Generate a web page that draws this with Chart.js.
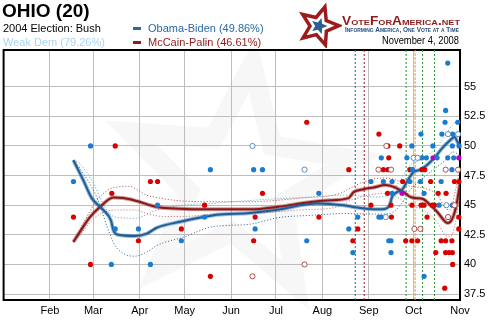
<!DOCTYPE html>
<html>
<head>
<meta charset="utf-8">
<script src="https://cdn.jsdelivr.net/npm/chart.js@4"></script>
<style>
body { margin: 0; background: #fff; font-family: "Liberation Sans", Arial, sans-serif; }
#wrap { position: relative; width: 490px; height: 330px; overflow: hidden; }
#c { position: absolute; left: 0; top: 0; }
.t { position: absolute; white-space: nowrap; line-height: 1; font-size: 11px; transform-origin: 0 0; }
.dash { position: absolute; width: 8px; height: 2.5px; }
</style>
</head>
<body>
<div id="wrap">
  <canvas id="c" width="490" height="330"></canvas>
  <div class="t" style="left:2px;top:1px;font-size:19px;font-weight:bold;color:#000">OHIO (20)</div>
  <div class="t" style="left:3px;top:22.5px;color:#000">2004 Election: Bush</div>
  <div class="t" style="left:3px;top:36.5px;color:#a8d4f4">Weak Dem (79.26%)</div>
  <div class="dash" style="left:133px;top:27px;background:#2a6a9c"></div>
  <div class="t" style="left:148px;top:22.5px;color:#2a6aa6">Obama-Biden (49.86%)</div>
  <div class="dash" style="left:133px;top:41px;background:#8e1c1c"></div>
  <div class="t" style="left:148px;top:36.5px;color:#8e1c1c">McCain-Palin (46.61%)</div>
  <svg id="logo" style="position:absolute;left:298px;top:2px" width="44" height="46"></svg>
  <div class="t" data-w="118" style="left:342px;top:14.5px;font-size:12px;font-weight:bold;font-variant:small-caps;color:#8e1c1c">VoteForAmerica.net</div>
  <div class="t" data-w="114" style="left:345px;top:27px;font-size:6.5px;font-weight:bold;font-variant:small-caps;color:#2a4f7e">Informing America, One Vote at a Time</div>
  <div class="t" data-w="77" style="left:382px;top:36px;font-size:10px;color:#000">November 4, 2008</div>
</div>
<script>
// x values are days since Jan 1 2008, y values are percent
const monthDays = [31, 60, 91, 121, 152, 182, 213, 244, 274, 305];
const monthLabels = ['Feb', 'Mar', 'Apr', 'May', 'Jun', 'Jul', 'Aug', 'Sep', 'Oct', 'Nov'];
const yTicks = [37.5, 40, 42.5, 45, 47.5, 50, 52.5, 55];

// VP picks, debates
const eventDays = [235, 241, 269, 275, 280, 288];
const eventKinds = ['dem', 'rep', 'debate', 'vp', 'debate', 'debate'];

const obamaTrend = [[46.6,48.8],[53.3,47.1],[58.9,45.6],[66.6,44.6],[71.8,43.7],[73.3,42.9],[76.7,42.5],[87.8,42.4],
  [95.7,42.6],[102.4,43.1],[118,43.6],[133.5,44.0],[142.5,44.2],[164.8,44.35],[187.1,44.7],[198.2,45.0],[209.4,45.15],
  [227.2,45.0],[236.2,44.8],[242.9,44.7],[250.6,44.65],[255.1,44.7],[258,45.0],[259.6,45.7],[262.9,46.1],[266.3,46.3],
  [269.6,47.0],[274,47.8],[278.5,48.0],[283,48.4],[288.6,49.1],[293,49.8],[298.6,50.5],[301.3,50.75],[303.3,50.35],[305,49.86]];
const mccainTrend = [[46.6,41.9],[51,42.75],[57.7,44.0],[64.4,44.85],[73.3,45.65],[80,45.6],[89,45.35],[102.4,44.85],
  [118,44.7],[133.5,44.65],[164.8,44.65],[182.6,44.85],[198.2,45.15],[216.1,45.4],[230.5,45.6],[233.9,46.1],[240.6,46.35],
  [247.3,46.5],[255.1,46.7],[260.7,46.55],[267.3,46.1],[271.8,45.7],[275.2,45.6],[280.7,45.5],[285.2,45.0],[289.7,44.45],
  [294.1,43.75],[296.4,43.5],[298.6,43.6],[300.8,44.15],[302.6,45.0],[304.1,46.1],[305,46.9]];

const obamaUpper = [[46.6,48.8],[51,48.5],[58.9,47.1],[68.9,44.6],[74.5,44.0],[87.8,43.9],[102.4,44.6],[120.2,45.0],
  [138,45.15],[164.8,45.4],[206,45.7],[228.3,45.85],[250.4,45.7],[258.4,46.0],[265,47.1],[271.8,48.4],[278.5,48.8],
  [288.6,49.8],[295.3,50.9],[300,51.8],[305,52.2]];
const obamaLower = [[46.6,48.8],[51,48.1],[62.2,45.7],[70,42.9],[74.5,41.6],[81.2,40.85],[87.8,40.7],[95.7,41.05],
  [102.4,41.6],[111.3,42.0],[120.2,42.3],[129.1,42.75],[138,43.15],[151.4,43.3],[164.8,43.4],[183.7,43.95],[206,44.15],
  [228.3,44.3],[250.4,44.25],[258.4,44.3],[265,45.0],[271.8,46.3],[278.5,47.1],[288.6,48.15],[295.3,48.8],[300,49.5],[305,49.2]];
const mccainUpper = [[46.6,41.9],[55.5,44.0],[62.2,45.4],[70,46.3],[76.7,46.55],[83.4,46.6],[95.7,45.85],[106.8,45.55],
  [120.2,45.35],[140.2,45.3],[164.8,45.3],[198.2,45.6],[225,46.0],[231.7,46.45],[240.4,46.95],[253.8,47.3],[260.4,47.2],
  [271.8,46.6],[280.5,46.45],[289.9,45.85],[295.3,44.75],[298.6,44.6],[302,46.3],[305,48.0]];
const mccainLower = [[46.6,41.9],[49.9,42.3],[58.9,43.7],[67.8,44.45],[76.7,44.6],[87.8,44.6],[95.7,44.3],[106.8,44.05],
  [120.2,44.05],[140.2,44.25],[164.8,44.3],[198.2,44.6],[225,44.9],[231.7,45.4],[240.4,45.75],[253.8,46.0],[260.4,45.85],
  [271.8,45.0],[280.5,44.6],[289.9,43.55],[295.3,42.45],[298.6,42.35],[302,43.55],[305,45.85]];

const obamaPolls = [[46.7,47],[58.1,50],[72,40],[74.6,43],[90.1,43],[98.1,40],[102.9,45],[118.8,42],[134.3,44],[138.2,48],
  [167.1,48],[168.1,43],[173,48],[202.6,42],[210.7,46],
  [230.7,43],[233.4,41],[236.7,44],[245.5,47],[250.8,44],[252.4,44],[252.4,49],[253.8,47],
  [257.4,42],[258.9,42],[258.9,41],[259.6,47],[259.6,46],[269.5,49],[271.5,47],[272.8,50],[273.3,48],
  [278.5,47],[278.9,51],[279.5,49],[281,46],[281,39],[282.5,49],[286.9,50],[289.7,49],[291,45],[292.4,47],[292.9,51],
  [295,52],[295.4,53],[296.8,57],[296.8,49],[299.6,48],[299.9,45],[299.9,50],[300.8,49],[300.1,51],[303.5,52],[304.4,50]];
const obamaPollsOpen = [[166.3,50],[201.1,48],[255.4,44],[274,49],[276.7,49],[295.9,45],[297,51],[303.7,51]];
const mccainPolls = [[46.7,44],[58.1,40],[72.3,46],[74.6,50],[90.1,42],[98.1,47],[102.9,47],[118.8,43],[134.3,45],[138.2,39],
  [167.1,42],[168.1,44],[173,46],[202.6,52],[210.7,44],
  [230.7,48],[233.4,42],[236.7,43],[245.5,45],[250.8,51],[253.8,48],[256.8,48],[256.8,50],[257.4,49],[256.6,46],[258.9,45],[259.2,44],
  [264.7,50],[266.7,47],[268.7,42],[271.5,48],[272.8,42],[272.9,45],[276.7,42],[279,45],[279.5,48],[281,45],[281.4,48],
  [283,44],[285.4,47],[286.5,45],[287.9,45],[288.8,41],[290.4,46],[292.4,42],[294.8,38],[295.4,42],[295.7,46],[295.4,41],
  [297.7,41],[299.6,42],[299.9,41],[300.1,40],[301.3,47],[304.2,47],[304.2,44],[304.2,43]];
const mccainPollsOpen = [[166.3,39],[201.1,40],[250.5,48],[258.9,48],[255.8,50],[274.5,43],[278.5,43],[295.4,48],[297,44],[301.3,45],[303.7,48]];
const tiePolls = [[266.3,46],[287,49],[304.2,49]];

// ---- styles ----
const FONT = '"Liberation Sans", Arial, sans-serif';
const eventColor = { dem: '#2c5e8c', rep: '#a01818', debate: '#22962b', vp: '#f0a000' };
const Y_MIN = 37, Y_MAX = 58.1;

const pts = a => a.map(([x, y]) => ({ x, y }));

function starPts(cx, cy, R, r, rot) {
  const p = [];
  for (let i = 0; i < 10; i++) {
    const a = rot + i * Math.PI / 5 - Math.PI / 2;
    const rad = i % 2 ? r : R;
    p.push([cx + rad * Math.cos(a), cy + rad * Math.sin(a)]);
  }
  return p;
}

// logo star
(function() {
  const svg = document.getElementById('logo');
  const outer = starPts(21, 24, 20, 9, 0.3).map(p => p.join(',')).join(' ');
  const inner = starPts(21, 24, 8.5, 3.8, 0.3).map(p => p.join(',')).join(' ');
  svg.innerHTML = `<polygon points="${outer}" fill="none" stroke="#9b1c1c" stroke-width="3.5" stroke-linejoin="miter"/>` +
    `<polygon points="${inner}" fill="#2a5f94"/>`;
})();

document.querySelectorAll('[data-w]').forEach(el => {
  const w = el.getBoundingClientRect().width;
  el.style.transform = `scaleX(${(+el.dataset.w / w).toFixed(3)})`;
});

const watermark = {
  id: 'watermark',
  beforeDraw(chart) {
    const { ctx } = chart;
    const s = starPts(238, 182, 118, 50, 0.12);
    ctx.save();
    ctx.beginPath();
    s.forEach(([x, y], i) => i ? ctx.lineTo(x, y) : ctx.moveTo(x, y));
    ctx.closePath();
    ctx.lineWidth = 20;
    ctx.lineJoin = 'miter';
    ctx.strokeStyle = '#f7f7f7';
    ctx.stroke();
    ctx.restore();
  }
};

const frame = {
  id: 'frame',
  beforeDatasetsDraw(chart) {
    const { ctx, chartArea: a } = chart;
    ctx.save();
    ctx.strokeStyle = '#000';
    ctx.lineWidth = 2;
    ctx.strokeRect(a.left, a.top, a.right - a.left, a.bottom - a.top);
    ctx.restore();
  }
};

const datasets = [];
eventDays.forEach((d, i) => {
  datasets.push({
    type: 'line', data: [{ x: d, y: Y_MIN }, { x: d, y: Y_MAX }],
    borderColor: eventColor[eventKinds[i]], borderWidth: 1,
    borderDash: eventKinds[i] === 'vp' ? [3, 1] : [2, 2],
    pointRadius: 0, order: 9
  });
});
const band = (data, color) => ({
  type: 'line', data: pts(data), borderColor: color, borderWidth: 1, borderDash: [1, 2],
  pointRadius: 0, cubicInterpolationMode: 'monotone', order: 8
});
datasets.push(band(obamaUpper, '#6b9ac4'), band(obamaLower, '#2a5f94'),
  band(mccainUpper, '#b54545'), band(mccainLower, '#c06a6a'));
const trend = (data, color, w, order) => ({
  type: 'line', data: pts(data), borderColor: color, borderWidth: w,
  pointRadius: 0, cubicInterpolationMode: 'monotone', order
});
datasets.push(trend(obamaTrend, 'rgba(60,120,175,0.5)', 4, 6), trend(obamaTrend, '#1e5e98', 2, 5),
  trend(mccainTrend, 'rgba(160,60,60,0.5)', 4, 6), trend(mccainTrend, '#8a1616', 2, 5));
const dots = (data, fill, stroke, bw) => ({
  type: 'scatter', data: pts(data), pointRadius: 2.6, pointHoverRadius: 2.6,
  pointBackgroundColor: fill, pointBorderColor: stroke, pointBorderWidth: bw, clip: 6, order: 1
});
datasets.push(dots(obamaPollsOpen, '#fff', '#5b8db8', 1), dots(mccainPollsOpen, '#fff', '#b24a4a', 1),
  dots(obamaPolls, '#1a7cd0', '#1a7cd0', 0), dots(mccainPolls, '#d90000', '#d90000', 0),
  dots(tiePolls, '#c000c0', '#c000c0', 0));

new Chart(document.getElementById('c'), {
  data: { datasets },
  plugins: [watermark, frame],
  options: {
    responsive: false,
    animation: false,
    events: [],
    layout: { padding: { top: 50, left: 3, right: 0, bottom: 0 } },
    plugins: { legend: { display: false }, tooltip: { enabled: false } },
    scales: {
      x: {
        type: 'linear', min: 0, max: 305,
        afterBuildTicks: s => { s.ticks = monthDays.map(v => ({ value: v })); },
        afterFit: s => { s.height = 30; },
        ticks: {
          autoSkip: false, maxRotation: 0, padding: 4, color: '#000',
          font: { family: FONT, size: 11 },
          callback: v => monthLabels[monthDays.indexOf(v)] || ''
        },
        grid: { color: '#bdbdbd', lineWidth: 1, drawTicks: false },
        border: { display: false }
      },
      y: {
        type: 'linear', position: 'right', min: Y_MIN, max: Y_MAX,
        afterBuildTicks: s => { s.ticks = yTicks.map(v => ({ value: v })); },
        afterFit: s => { s.width = 30; },
        ticks: {
          padding: 4, color: '#000', font: { family: FONT, size: 11 },
          callback: v => String(v)
        },
        grid: { color: '#bdbdbd', lineWidth: 1, drawTicks: false },
        border: { display: false }
      }
    }
  }
});
</script>
</body>
</html>
